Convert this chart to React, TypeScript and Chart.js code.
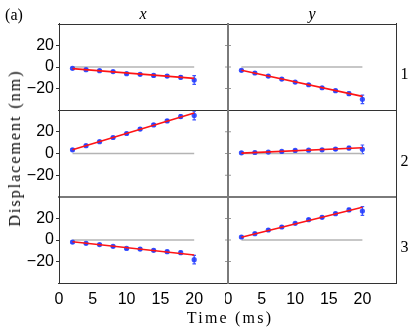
import React, { useEffect, useRef } from "react";
import { Chart, registerables } from "chart.js";

Chart.register(...registerables);

// ---------- data ----------
const times = [2, 4, 6, 8, 10, 12, 14, 16, 18, 20];

const xRow1 = [-1.2, -2.5, -3.4, -4.3, -6.2, -6.8, -7.8, -8.4, -9.6, -12.1];
const yRow1 = [-3.1, -5.6, -8.4, -11.2, -14.0, -16.5, -19.3, -22.0, -24.8, -30.1];
const xRow2 = [3.4, 7.2, 10.9, 14.7, 18.4, 22.5, 26.3, 30.0, 34.0, 35.0];
const yRow2 = [0.6, 0.9, 1.3, 1.9, 2.8, 3.1, 3.4, 4.1, 5.0, 3.8];
const xRow3 = [-1.9, -3.1, -4.3, -5.9, -7.8, -8.4, -9.6, -10.9, -11.8, -18.3];
const yRow3 = [2.8, 5.9, 9.3, 12.1, 15.5, 18.9, 21.1, 24.5, 28.0, 27.0];

const errors = [1, 1, 1, 1, 1, 1, 1.1, 1.2, 1.5, 4];

// linear fit end points (at first and last time)
const fitX1 = [-1.5, -10.6];
const fitY1 = [-3.1, -27.3];
const fitX2 = [3.4, 37.2];
const fitY2 = [0.3, 5.3];
const fitX3 = [-1.6, -14.0];
const fitY3 = [2.5, 30.4];

const yTicks = [-20, 0, 20];
const xTicks = [0, 5, 10, 15, 20];
const colTitles = ["x", "y"];
const rowLabels = ["1", "2", "3"];

// ---------- layout ----------
const COL_LEFT = [59, 228];
const COL_W = [169, 168];
const ROW_TOP = [24, 110, 197];
const ROW_H = [86, 87, 86];

const panels = [
  { row: 0, col: 0, values: xRow1, fit: fitX1 },
  { row: 0, col: 1, values: yRow1, fit: fitY1 },
  { row: 1, col: 0, values: xRow2, fit: fitX2 },
  { row: 1, col: 1, values: yRow2, fit: fitY2 },
  { row: 2, col: 0, values: xRow3, fit: fitX3 },
  { row: 2, col: 1, values: yRow3, fit: fitY3 },
];

const DARK = "#333333";
const GRAY = "#7a7a7a";
const BLUE = "rgba(35,60,255,0.88)";
const tickFont = { family: "'Liberation Sans', Arial, sans-serif", size: 16 };
const fmt = (v: number) => (v < 0 ? "\u2212" + Math.abs(v) : String(v));

const errorBarPlugin = {
  id: "errorBars",
  beforeDatasetsDraw(chart: any) {
    const ctx = chart.ctx;
    const ys = chart.scales.y;
    chart.data.datasets.forEach((ds: any, i: number) => {
      if (!ds.errors) return;
      const meta = chart.getDatasetMeta(i);
      ctx.save();
      ctx.strokeStyle = BLUE;
      ctx.lineWidth = 1.2;
      meta.data.forEach((el: any, j: number) => {
        const v = ds.data[j].y;
        const e = ds.errors[j];
        const y1 = ys.getPixelForValue(v + e);
        const y2 = ys.getPixelForValue(v - e);
        ctx.beginPath();
        ctx.moveTo(el.x, y1);
        ctx.lineTo(el.x, y2);
        ctx.moveTo(el.x - 1.8, y1);
        ctx.lineTo(el.x + 1.8, y1);
        ctx.moveTo(el.x - 1.8, y2);
        ctx.lineTo(el.x + 1.8, y2);
        ctx.stroke();
      });
      ctx.restore();
    });
  },
};

const framePlugin = {
  id: "frame",
  afterDraw(chart: any, _args: any, opts: any) {
    const { ctx, chartArea: a } = chart;
    const ys = chart.scales.y;
    const line = (x1: number, y1: number, x2: number, y2: number, c: string, w: number) => {
      ctx.save();
      ctx.strokeStyle = c;
      ctx.lineWidth = w;
      ctx.beginPath();
      ctx.moveTo(x1, y1);
      ctx.lineTo(x2, y2);
      ctx.stroke();
      ctx.restore();
    };
    const off = (w: number) => (w === 1 ? 0.5 : 0);
    const e = opts.edges;
    const L = Math.round(a.left), R = Math.round(a.right), T = Math.round(a.top), B = Math.round(a.bottom);
    yTicks.forEach((v) => {
      const y = ys.getPixelForValue(v);
      if (opts.innerLeft) line(L, y, L + 3, y, "#999", 1);
      if (opts.innerRight) line(R - 3, y, R, y, "#999", 1);
    });
    line(L - 1, T + off(e.top[1]), R + 1, T + off(e.top[1]), e.top[0], e.top[1]);
    line(L - 1, B + off(e.bottom[1]), R + 1, B + off(e.bottom[1]), e.bottom[0], e.bottom[1]);
    line(L + off(e.left[1]), T - 1, L + off(e.left[1]), B + 1, e.left[0], e.left[1]);
    line(R + off(e.right[1]), T - 1, R + off(e.right[1]), B + 1, e.right[0], e.right[1]);
  },
};

function Panel({ p }: { p: any }) {
  const ref = useRef<HTMLCanvasElement>(null);
  const isLeft = p.col === 0;
  const isBottom = p.row === 2;
  const padL = isLeft ? 50 : 3;
  const padR = 3;
  const padT = 3;
  const padB = isBottom ? 30 : 3;
  const w = COL_W[p.col] + padL + padR;
  const h = ROW_H[p.row] + padT + padB;
  const left = COL_LEFT[p.col] - padL;
  const top = ROW_TOP[p.row] - padT;

  useEffect(() => {
    const edgeTop = p.row === 2 ? [GRAY, 2] : [DARK, 1];
    const edgeBottom = p.row === 1 ? [GRAY, 2] : [DARK, 1];
    const edgeLeft = p.col === 1 ? [GRAY, 2] : [DARK, 1];
    const edgeRight = p.col === 0 ? [GRAY, 2] : [DARK, 1];
    const last = times.length - 1;
    const chart = new Chart(ref.current as HTMLCanvasElement, {
      type: "scatter",
      data: {
        datasets: [
          {
            label: "fit",
            data: [
              { x: times[0], y: p.fit[0] },
              { x: times[last], y: p.fit[1] },
            ],
            showLine: true,
            borderColor: "#ff1414",
            borderWidth: 1.6,
            pointRadius: 0,
            order: 0,
          },
          {
            label: "data",
            data: times.map((t, i) => ({ x: t, y: p.values[i] })),
            errors: errors,
            pointRadius: 2.6,
            backgroundColor: BLUE,
            borderWidth: 0,
            order: 1,
          } as any,
          {
            label: "zero",
            data: [
              { x: times[0], y: 0 },
              { x: times[last], y: 0 },
            ],
            showLine: true,
            borderColor: "#b4b4b4",
            borderWidth: 1.5,
            pointRadius: 0,
            order: 2,
          },
        ],
      },
      options: {
        responsive: false,
        maintainAspectRatio: false,
        animation: false,
        devicePixelRatio: 1,
        layout: {
          autoPadding: false,
          padding: { left: isLeft ? 0 : 3, right: 3, top: 3, bottom: isBottom ? 0 : 3 },
        },
        plugins: {
          legend: { display: false },
          tooltip: { enabled: false },
          frame: {
            edges: { top: edgeTop, bottom: edgeBottom, left: edgeLeft, right: edgeRight },
            innerLeft: p.col === 1,
            innerRight: p.col === 0,
          },
        } as any,
        scales: {
          x: {
            type: "linear",
            min: 0,
            max: 25,
            display: isBottom,
            afterBuildTicks: (s: any) => {
              s.ticks = xTicks.map((v) => ({ value: v }));
            },
            afterFit: (s: any) => {
              s.height = isBottom ? 30 : 0;
              s.paddingLeft = 0;
              s.paddingRight = 0;
              s.paddingTop = 0;
              s.paddingBottom = 0;
            },
            grid: { display: false, drawTicks: false },
            border: { display: false },
            ticks: {
              font: tickFont,
              color: "#000",
              padding: 7,
              maxRotation: 0,
              autoSkip: false,
              callback: (v: any) => fmt(Number(v)),
            },
          },
          y: {
            type: "linear",
            min: -40,
            max: 40,
            display: isLeft,
            afterBuildTicks: (s: any) => {
              s.ticks = yTicks.map((v) => ({ value: v }));
            },
            afterFit: (s: any) => {
              s.width = isLeft ? 50 : 0;
              s.paddingLeft = 0;
              s.paddingRight = 0;
              s.paddingTop = 0;
              s.paddingBottom = 0;
            },
            grid: { display: true, drawOnChartArea: false, drawTicks: true, tickLength: 3, color: DARK },
            border: { display: false },
            ticks: {
              font: tickFont,
              color: "#000",
              padding: 2,
              autoSkip: false,
              callback: (v: any) => fmt(Number(v)),
            },
          },
        },
      } as any,
      plugins: [errorBarPlugin, framePlugin],
    });
    return () => chart.destroy();
  }, []);

  return (
    <canvas
      ref={ref}
      width={w}
      height={h}
      style={{ position: "absolute", left, top, width: w, height: h }}
    />
  );
}

const serif = "'Liberation Serif', 'Times New Roman', serif";

function Label({ x, y, text, italic, spacing, rotate }: any) {
  return (
    <div
      style={{
        position: "absolute",
        left: x,
        top: y,
        transform: `translate(-50%, -50%)${rotate ? " rotate(-90deg)" : ""}`,
        fontFamily: serif,
        fontSize: 16,
        lineHeight: "16px",
        fontStyle: italic ? "italic" : "normal",
        letterSpacing: spacing ? `${spacing}px` : undefined,
        whiteSpace: "nowrap",
        color: "#000",
      }}
    >
      {text}
    </div>
  );
}

export default function App() {
  return (
    <div
      style={{
        position: "absolute",
        left: 0,
        top: 0,
        width: 415,
        height: 329,
        background: "#fff",
        overflow: "hidden",
      }}
    >
      {panels.map((p, i) => (
        <Panel key={i} p={p} />
      ))}
      <Label x={14} y={15} text="(a)" />
      <Label x={143} y={14} text={colTitles[0]} italic />
      <Label x={312} y={14} text={colTitles[1]} italic />
      <Label x={404.5} y={74} text={rowLabels[0]} />
      <Label x={404.5} y={160.5} text={rowLabels[1]} />
      <Label x={404.5} y={247} text={rowLabels[2]} />
      <Label x={14.5} y={148} text="Displacement (nm)" spacing={2} rotate />
      <Label x={230} y={318} text="Time (ms)" spacing={2.2} />
    </div>
  );
}
